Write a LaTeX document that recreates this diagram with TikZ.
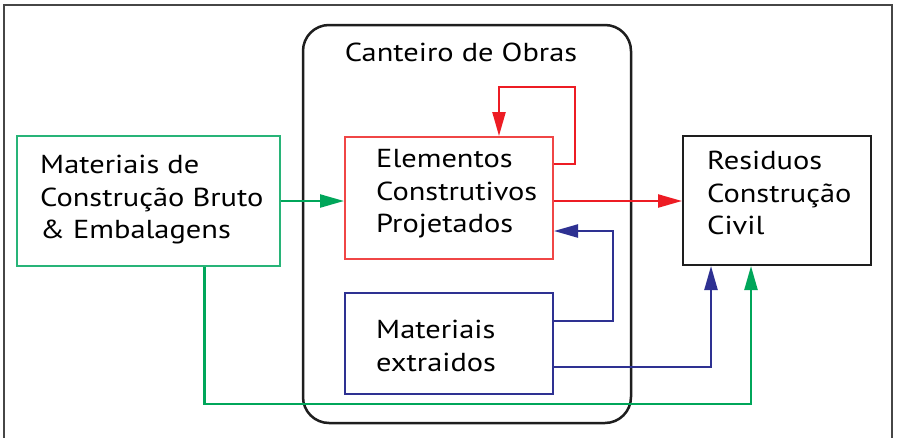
\documentclass[tikz,border=0pt]{standalone}
\usepackage{fontspec}
\setmainfont{PT Sans}[FakeStretch=1.17]
\usetikzlibrary{arrows.meta,calc}
\definecolor{cgreen}{RGB}{0,166,90}
\definecolor{cgreenbox}{RGB}{40,180,120}
\definecolor{cred}{RGB}{237,28,36}
\definecolor{credbox}{RGB}{240,70,70}
\definecolor{cblue}{RGB}{46,49,146}
\definecolor{cblack}{RGB}{30,30,30}
\definecolor{cframe}{RGB}{70,70,70}
\tikzset{
  box/.style={draw, line width=2pt, rectangle, inner sep=0pt},
  txt/.style={anchor=west, align=left, inner sep=0pt, font=\fontsize{26}{32.5}\selectfont, text=black},
  link/.style={line width=2.3pt},
  tip/.style={-{Triangle[length=24pt,width=13pt]}},
}
\begin{document}
\begin{tikzpicture}[x=1pt,y=-1pt]
\useasboundingbox (0,0) rectangle (898,437);
\fill[white] (0,0) rectangle (898,437);
% outer frame (bottom edge outside the picture)
\draw[cframe, line width=2.2pt] (4,440) |- (892,5) -- (892,440);
% construction site
\node[draw=cblack, line width=2.5pt, rounded corners=26pt, minimum width=328pt, minimum height=398pt, inner sep=0pt] (site) at (467,224) {};
\node[txt, anchor=center] (sitetitle) at (461,52) {Canteiro de Obras};
% boxes
\node[box, draw=cgreenbox, minimum width=263pt, minimum height=130pt] (green) at (148.5,201) {};
\node[box, draw=credbox, minimum width=208pt, minimum height=122pt] (red) at (449,198) {};
\node[box, draw=cblue, minimum width=208pt, minimum height=101pt] (blue) at (449,343.5) {};
\node[box, draw=cblack, minimum width=188pt, minimum height=129pt] (res) at (777,200.5) {};
% texts
\node[txt] (greent) at (40,200) {Materiais de\\Construção Bruto\\\& Embalagens};
\node[txt] (redt) at (376,194) {Elementos\\Construtivos\\Projetados};
\node[txt] (rest) at (707,193) {Residuos\\Construção\\Civil};
\node[txt] (bluet) at (376,346) {Materiais\\extraidos};
% connectors
\draw[link, tip, cgreen] (green.east) -- (green.east -| red.west);
\draw[link, tip, cred] ([yshift=-3pt]red.east) -- ([yshift=-3pt]red.east -| res.west);
\draw[link, tip, cred] ([yshift=-28pt]red.north east) -- ++(21,0) -- ++(0,-77) -| ([xshift=50pt]red.north);
\draw[link, tip, cblue] ([yshift=-29pt]blue.north east) -- ++(59,0) |- ([yshift=-95pt]red.north east);
\draw[link, tip, cblue] ([yshift=-75pt]blue.north east) -| ([xshift=29pt]res.south west);
\draw[link, tip, cgreen] ([xshift=56pt]green.south) -- ++(0,137) -| ([xshift=69pt]res.south west);
\end{tikzpicture}
\end{document}
